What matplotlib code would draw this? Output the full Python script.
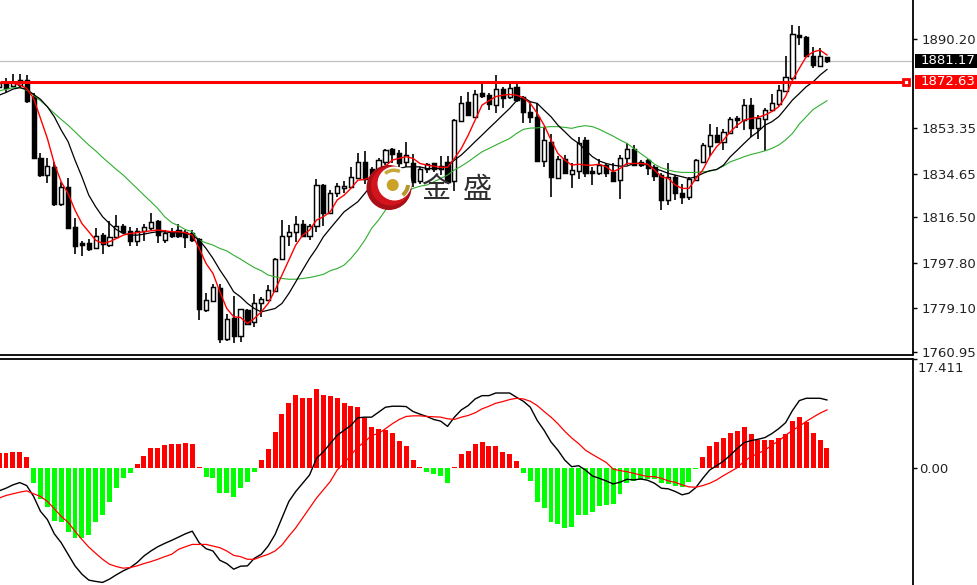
"""Gold chart with moving averages and MACD, MT4 look."""
import numpy as np
import matplotlib
matplotlib.use("Agg")
import matplotlib.pyplot as plt
from matplotlib.patches import Circle, Wedge, Rectangle
from matplotlib.transforms import blended_transform_factory

opens = [
    1870.5, 1872.5, 1870.8, 1871.2, 1873.2, 1866.4, 1841.2, 1834.0, 1837.4, 1822.0,
    1828.9, 1812.6, 1806.0, 1806.0, 1803.7, 1809.2, 1805.1, 1808.5, 1813.1, 1810.9,
    1806.9, 1810.9, 1812.0, 1815.0, 1807.1, 1810.6, 1811.5, 1810.3, 1809.9, 1807.8,
    1778.2, 1782.1, 1787.5, 1766.2, 1774.8, 1767.5, 1778.2, 1773.4, 1781.0, 1782.6,
    1786.2, 1799.2, 1808.9, 1810.3, 1813.8, 1808.9, 1813.1, 1830.1, 1818.4, 1826.4,
    1828.5, 1829.2, 1832.9, 1839.5, 1836.7, 1836.1, 1839.5, 1844.6, 1843.2, 1839.5,
    1839.1, 1831.7, 1836.7, 1838.8, 1836.7, 1839.5, 1831.7, 1856.4, 1864.3, 1858.1,
    1867.7, 1867.0, 1862.9, 1869.5, 1866.1, 1870.2, 1866.1, 1860.2, 1858.1, 1839.8,
    1847.8, 1832.9, 1840.5, 1834.4, 1835.8, 1848.5, 1835.8, 1834.7, 1838.0, 1835.4,
    1831.9, 1840.9, 1844.6, 1839.2, 1840.2, 1837.4, 1834.0, 1823.9, 1833.3, 1826.7,
    1825.0, 1831.9, 1839.5, 1846.0, 1850.5, 1847.8, 1851.2, 1857.4, 1856.7, 1862.9,
    1853.3, 1857.0, 1860.8, 1863.3, 1868.8, 1874.2, 1891.8, 1891.2, 1883.2, 1879.2,
    1882.6,
]
highs = [
    1873.2, 1873.9, 1875.7, 1875.7, 1875.3, 1867.7, 1843.2, 1840.9, 1839.5, 1831.2,
    1832.6, 1816.1, 1806.7, 1807.8, 1812.0, 1809.9, 1815.1, 1817.5, 1813.8, 1812.6,
    1812.0, 1814.0, 1818.2, 1815.4, 1811.3, 1812.0, 1813.8, 1811.3, 1811.5, 1808.2,
    1785.5, 1789.0, 1789.0, 1776.8, 1784.0, 1778.9, 1778.5, 1784.7, 1783.7, 1788.6,
    1799.6, 1815.4, 1813.3, 1817.1, 1815.4, 1814.0, 1832.2, 1830.5, 1827.8, 1830.8,
    1831.7, 1837.2, 1843.2, 1843.9, 1837.2, 1840.9, 1844.6, 1845.0, 1844.3, 1847.8,
    1842.9, 1837.4, 1839.1, 1839.1, 1841.8, 1841.8, 1857.0, 1866.6, 1868.4, 1869.1,
    1872.1, 1867.7, 1875.3, 1870.5, 1871.9, 1871.6, 1866.6, 1864.3, 1863.9, 1854.0,
    1850.9, 1841.8, 1842.3, 1838.8, 1849.8, 1849.6, 1837.4, 1840.5, 1838.8, 1838.8,
    1842.3, 1847.4, 1846.4, 1840.2, 1840.5, 1838.1, 1834.7, 1838.8, 1834.0, 1830.5,
    1833.3, 1840.5, 1847.1, 1855.1, 1854.0, 1852.9, 1858.1, 1858.4, 1865.3, 1865.7,
    1858.8, 1861.5, 1867.5, 1871.2, 1883.2, 1896.0, 1895.6, 1891.4, 1887.0, 1886.3,
    1882.9,
]
lows = [
    1869.1, 1868.4, 1870.5, 1870.5, 1863.9, 1840.6, 1833.3, 1830.8, 1821.2, 1821.2,
    1811.7, 1801.6, 1800.5, 1802.7, 1803.3, 1801.6, 1804.4, 1808.2, 1810.2, 1804.7,
    1804.7, 1806.9, 1811.3, 1805.8, 1806.0, 1808.1, 1808.2, 1803.7, 1806.5, 1774.1,
    1777.5, 1781.7, 1764.7, 1765.4, 1764.7, 1765.1, 1772.3, 1771.3, 1775.5, 1782.4,
    1785.8, 1798.9, 1804.7, 1806.5, 1808.5, 1807.1, 1810.6, 1812.9, 1818.2, 1824.8,
    1826.4, 1828.5, 1832.2, 1830.3, 1829.0, 1835.4, 1838.1, 1838.8, 1837.4, 1837.4,
    1828.9, 1830.3, 1834.7, 1835.4, 1834.0, 1830.5, 1827.4, 1856.3, 1858.4, 1857.4,
    1865.7, 1860.8, 1859.7, 1861.5, 1865.3, 1864.3, 1855.3, 1855.7, 1839.5, 1837.2,
    1825.0, 1832.5, 1834.4, 1828.5, 1832.2, 1833.3, 1830.1, 1834.0, 1833.3, 1831.2,
    1824.0, 1838.1, 1837.9, 1837.4, 1834.0, 1831.5, 1819.5, 1821.6, 1823.7, 1822.0,
    1823.9, 1831.5, 1838.8, 1842.0, 1847.1, 1844.3, 1850.8, 1853.3, 1852.6, 1849.8,
    1849.1, 1844.0, 1860.4, 1862.5, 1868.4, 1873.3, 1887.7, 1882.9, 1878.1, 1878.8,
    1880.1,
]
closes = [
    1871.9, 1869.8, 1872.5, 1873.2, 1864.7, 1840.9, 1834.0, 1837.7, 1822.0, 1829.2,
    1812.0, 1804.8, 1805.1, 1803.3, 1808.9, 1805.5, 1808.5, 1812.9, 1810.6, 1806.7,
    1811.0, 1812.6, 1814.7, 1809.2, 1809.9, 1808.9, 1808.8, 1808.5, 1807.1, 1778.9,
    1782.4, 1787.9, 1766.2, 1774.5, 1767.5, 1778.5, 1772.7, 1781.0, 1782.8, 1786.5,
    1799.2, 1808.9, 1810.3, 1813.8, 1808.9, 1813.1, 1830.1, 1818.2, 1826.7, 1829.4,
    1829.4, 1833.0, 1839.5, 1832.3, 1833.0, 1840.2, 1844.3, 1842.9, 1839.1, 1842.3,
    1831.2, 1836.7, 1838.5, 1836.7, 1837.7, 1831.2, 1856.7, 1863.9, 1858.8, 1867.3,
    1866.6, 1863.2, 1869.5, 1865.7, 1870.1, 1865.0, 1859.9, 1857.8, 1839.8, 1848.5,
    1833.0, 1840.6, 1834.7, 1836.1, 1847.4, 1834.7, 1834.7, 1838.0, 1834.7, 1831.7,
    1841.2, 1844.6, 1838.1, 1838.1, 1837.0, 1833.7, 1823.9, 1833.3, 1826.7, 1825.0,
    1832.2, 1840.2, 1846.4, 1850.5, 1847.8, 1851.6, 1857.1, 1856.7, 1862.9, 1853.5,
    1857.4, 1860.8, 1863.9, 1869.1, 1874.6, 1892.1, 1890.9, 1883.2, 1879.5, 1883.2,
    1881.2,
]

ma_fast = [
    1872.1, 1872.0, 1871.9, 1871.2, 1869.8, 1865.7, 1857.4, 1849.1, 1838.8, 1831.2,
    1826.4, 1819.5, 1814.0, 1810.6, 1807.1, 1805.8, 1806.5, 1807.8, 1809.2, 1809.9,
    1810.2, 1810.6, 1811.0, 1811.3, 1811.0, 1810.6, 1810.6, 1810.2, 1809.2, 1803.7,
    1797.5, 1793.4, 1785.8, 1778.9, 1775.5, 1775.2, 1772.7, 1774.8, 1777.5, 1781.0,
    1786.5, 1792.7, 1798.9, 1805.1, 1809.2, 1811.3, 1815.4, 1816.8, 1818.8, 1823.7,
    1825.7, 1828.5, 1831.9, 1832.2, 1833.3, 1836.1, 1837.7, 1840.2, 1840.9, 1841.6,
    1840.9, 1838.8, 1838.1, 1837.7, 1837.2, 1837.2, 1840.9, 1845.0, 1850.5, 1856.7,
    1862.9, 1864.7, 1866.4, 1867.0, 1867.3, 1867.0, 1865.9, 1863.6, 1859.5, 1854.6,
    1848.5, 1842.9, 1840.2, 1838.1, 1838.5, 1838.1, 1838.1, 1838.5, 1837.4, 1835.4,
    1836.7, 1838.8, 1838.8, 1838.8, 1838.5, 1836.1, 1833.3, 1832.6, 1829.9, 1828.5,
    1828.5, 1832.6, 1836.1, 1841.6, 1845.7, 1848.5, 1851.9, 1854.6, 1856.7, 1857.4,
    1857.8, 1858.8, 1860.2, 1862.2, 1866.4, 1873.2, 1878.1, 1882.9, 1884.9, 1885.6,
    1883.6,
]
ma_mid = [
    1867.0, 1868.1, 1869.5, 1870.1, 1869.4, 1867.3, 1865.3, 1862.2, 1858.1, 1852.6,
    1847.8, 1840.2, 1833.3, 1825.7, 1820.9, 1816.8, 1814.0, 1811.5, 1809.9, 1809.2,
    1809.2, 1809.6, 1810.2, 1810.6, 1810.6, 1810.2, 1810.2, 1809.9, 1809.2, 1807.1,
    1803.7, 1799.6, 1794.8, 1790.6, 1785.8, 1783.7, 1781.0, 1778.9, 1777.5, 1778.2,
    1778.9, 1781.0, 1785.1, 1789.9, 1794.8, 1799.6, 1803.7, 1808.5, 1812.0, 1815.4,
    1818.8, 1820.9, 1823.0, 1826.4, 1829.9, 1831.9, 1834.0, 1835.4, 1836.7, 1837.4,
    1837.4, 1837.4, 1836.7, 1836.7, 1836.7, 1837.7, 1840.2, 1842.3, 1845.0, 1847.8,
    1850.5, 1853.3, 1856.0, 1858.8, 1861.5, 1864.7, 1866.1, 1864.3, 1863.6, 1860.8,
    1858.1, 1854.6, 1851.9, 1849.1, 1847.1, 1844.3, 1841.6, 1839.8, 1838.8, 1838.1,
    1837.7, 1837.7, 1838.8, 1838.8, 1838.1, 1836.7, 1835.8, 1834.7, 1834.0, 1833.3,
    1832.6, 1833.3, 1834.7, 1835.8, 1836.3, 1838.1, 1841.6, 1844.3, 1847.1, 1849.8,
    1851.9, 1854.6, 1856.0, 1858.1, 1861.5, 1865.0, 1867.7, 1870.5, 1872.5, 1875.3,
    1877.6,
]
ma_slow = [
    1868.8, 1869.4, 1870.1, 1870.1, 1869.1, 1867.0, 1864.7, 1862.2, 1859.5, 1857.0,
    1854.6, 1851.9, 1849.1, 1846.4, 1844.0, 1841.3, 1838.8, 1836.3, 1834.0, 1831.2,
    1828.5, 1825.7, 1823.0, 1820.2, 1816.8, 1814.4, 1813.1, 1811.5, 1810.6, 1807.1,
    1806.0, 1805.1, 1803.7, 1802.7, 1800.9, 1799.3, 1797.5, 1795.8, 1794.5, 1792.7,
    1792.0, 1791.3, 1791.0, 1791.0, 1791.3, 1791.7, 1792.3, 1793.0, 1794.5, 1795.4,
    1796.8, 1799.6, 1803.0, 1807.1, 1812.0, 1815.4, 1819.5, 1823.0, 1825.0, 1827.1,
    1828.5, 1829.4, 1829.9, 1831.2, 1832.6, 1834.0, 1836.1, 1837.7, 1839.5, 1841.6,
    1843.6, 1845.0, 1846.4, 1847.8, 1849.1, 1851.2, 1852.9, 1853.4, 1853.5, 1853.8,
    1854.0, 1854.0, 1853.7, 1853.3, 1854.0, 1854.4, 1854.0, 1852.9, 1851.5, 1850.1,
    1848.5, 1847.1, 1845.0, 1842.9, 1840.9, 1838.5, 1837.0, 1836.1, 1835.4, 1835.1,
    1835.1, 1835.1, 1835.4, 1835.6, 1836.3, 1837.7, 1839.5, 1840.5, 1841.6, 1842.5,
    1843.2, 1844.0, 1845.0, 1846.4, 1848.5, 1851.2, 1855.1, 1858.1, 1861.1, 1862.9,
    1864.7,
]

macd_hist = [
    2.27, 2.27, 2.53, 2.53, 1.63, -2.37, -4.95, -6.32, -8.54, -8.70,
    -10.28, -11.28, -11.28, -10.65, -8.70, -7.48, -5.53, -3.16, -1.69, -0.90,
    0.58, 1.90, 3.16, 3.16, 3.58, 3.85, 3.85, 4.01, 3.85, 0.16,
    -1.53, -1.69, -4.06, -4.06, -4.69, -3.16, -2.32, -0.63, 1.21, 2.95,
    5.74, 8.54, 10.28, 11.54, 11.12, 11.12, 12.60, 11.59, 11.38, 11.12,
    10.28, 9.85, 9.64, 7.90, 6.43, 6.17, 5.96, 5.53, 4.27, 3.43,
    1.26, 0.16, -0.74, -1.05, -1.26, -2.48, 0.16, 2.11, 2.74, 3.85,
    4.06, 3.43, 3.43, 2.53, 2.11, 1.05, -0.84, -2.11, -5.53, -6.38,
    -8.70, -8.91, -9.59, -9.38, -7.48, -7.48, -7.01, -6.17, -5.96, -5.74,
    -4.22, -2.48, -2.06, -1.95, -1.79, -1.79, -2.48, -2.64, -2.85, -3.00,
    -2.32, -0.21, 1.74, 3.43, 4.06, 4.69, 5.59, 5.80, 6.43, 5.32,
    4.48, 4.48, 4.48, 4.69, 5.32, 7.48, 8.12, 7.27, 5.59, 4.48,
    3.16,
]
macd_line = [
    -3.69, -3.27, -2.74, -2.37, -2.85, -4.58, -6.96, -8.27, -10.54, -11.96,
    -13.81, -15.65, -16.97, -17.92, -18.13, -18.29, -17.76, -17.07, -16.44, -15.92,
    -15.12, -14.07, -13.28, -12.60, -12.07, -11.59, -11.07, -10.54, -10.12, -11.96,
    -12.91, -13.28, -14.76, -15.28, -16.18, -15.70, -15.65, -14.44, -13.81, -12.49,
    -10.65, -8.01, -5.38, -3.79, -2.48, -1.16, 1.48, 2.53, 3.85, 5.16,
    5.96, 6.75, 7.96, 8.06, 8.06, 8.85, 9.64, 9.80, 9.80, 9.75,
    8.96, 8.54, 8.17, 7.69, 7.43, 6.59, 8.06, 9.22, 9.91, 10.96,
    11.49, 11.49, 11.91, 11.91, 11.91, 11.23, 10.59, 9.64, 7.54, 5.96,
    4.11, 2.79, 1.21, 0.16, 0.32, -0.37, -1.32, -1.69, -2.11, -2.58,
    -2.32, -1.84, -1.95, -1.79, -2.00, -2.48, -3.27, -3.37, -3.79, -4.32,
    -4.06, -3.16, -1.69, -0.37, 0.32, 1.05, 2.00, 3.06, 4.01, 4.32,
    4.53, 4.80, 5.43, 6.22, 7.17, 9.12, 10.70, 11.07, 11.07, 11.07,
    10.80,
]
macd_signal = [
    -4.85, -4.43, -4.16, -3.90, -3.69, -4.16, -4.58, -5.38, -6.53, -7.75,
    -8.70, -10.12, -11.44, -12.65, -13.65, -14.60, -15.39, -15.76, -16.02, -15.92,
    -15.65, -15.28, -14.97, -14.60, -14.18, -13.81, -13.02, -12.60, -12.23, -12.23,
    -12.23, -12.49, -12.75, -13.28, -13.97, -14.18, -14.60, -14.60, -14.18, -13.81,
    -13.28, -12.33, -10.91, -9.59, -8.01, -6.43, -4.85, -3.53, -2.21, -0.37,
    0.69, 2.00, 3.32, 4.11, 5.16, 5.43, 6.22, 7.01, 7.69, 8.17,
    8.27, 8.27, 8.17, 8.12, 8.06, 7.80, 7.69, 8.06, 8.33, 8.75,
    9.38, 9.80, 10.28, 10.54, 10.86, 11.07, 10.96, 10.59, 9.91, 8.96,
    8.06, 7.01, 5.80, 4.74, 3.85, 2.79, 2.11, 1.48, 0.84, -0.21,
    -0.47, -0.63, -0.90, -1.16, -1.42, -1.42, -1.69, -2.11, -2.32, -2.74,
    -3.06, -3.11, -2.85, -2.48, -1.95, -1.26, -0.63, 0.00, 1.05, 1.74,
    2.27, 2.79, 3.58, 4.27, 5.16, 5.96, 6.59, 7.38, 8.06, 8.70,
    9.22,
]

price_ticks = [1890.20, 1853.35, 1834.65, 1816.50, 1797.80, 1779.10, 1760.95]
macd_ticks = [17.411, 0.0]
macd_tick_labels = ["", "0.00"]
last_price = 1881.17
level_price = 1872.63

W, H = 977, 585
plt.rcParams["font.family"] = ["DejaVu Sans"]
plt.rcParams["font.size"] = 9.5

fig = plt.figure(figsize=(W / 100, H / 100), dpi=100, facecolor="white")
ax = fig.add_axes([0, 1 - 355 / H, 912.5 / W, 355 / H])
ax2 = fig.add_axes([0, 0, 912.5 / W, (H - 358.5) / H])

xs = np.arange(len(closes))
o, h, l, c = map(np.array, (opens, highs, lows, closes))
up = c >= o

# candles first, the averages go over them
ax.vlines(xs, l, h, color="black", linewidth=1.2, zorder=2)
ax.bar(xs, np.abs(c - o), bottom=np.minimum(o, c), width=0.6,
       facecolor=np.where(up, "white", "black"), edgecolor="black",
       linewidth=1.05, zorder=3)
ax.plot(xs, ma_slow, color="#2fae2f", linewidth=0.8, zorder=4)
ax.plot(xs, ma_mid, color="black", linewidth=0.9, zorder=5)
ax.plot(xs, ma_fast, color="#ff0000", linewidth=1.0, zorder=6)

ax.axhline(last_price, color="#c0c0c0", linewidth=0.9, zorder=1)
ax.hlines(level_price, 0.13, 131.1, color="#ff0000", linewidth=2.2, zorder=7)
ax.plot([131.4], [level_price], marker="s", markersize=4.5, markerfacecolor="white",
        markeredgecolor="#ff0000", markeredgewidth=2.0, zorder=8)

ax.set_xlim(0.13, 132.4)
ax.set_ylim(1759.7, 1906.3)
ax.set_xticks([])
ax.yaxis.tick_right()
ax.set_yticks(price_ticks)
ax.set_yticklabels([f"{v:.2f}" for v in price_ticks])

# price flags on the scale
flag = blended_transform_factory(fig.transFigure, ax.transData)
for price, colour in ((last_price, "black"), (level_price, "#ff0000")):
    ax.add_patch(Rectangle((915 / W, price - 2.9), 62 / W, 5.6, transform=flag,
                           facecolor=colour, edgecolor="none", clip_on=False, zorder=9))
    ax.text(921 / W, price, f"{price:.2f}", transform=flag, color="white",
            va="center", ha="left", clip_on=False, zorder=10)

ax2.bar(xs, macd_hist, width=0.72, color=["#ff0000" if v > 0 else "#00ff00" for v in macd_hist],
        zorder=2)
ax2.plot(xs, macd_line, color="black", linewidth=1.0, zorder=3)
ax2.plot(xs, macd_signal, color="#ff0000", linewidth=0.9, zorder=4)
ax2.set_xlim(0.13, 132.4)
ax2.set_ylim(-18.70, 17.411)
ax2.set_xticks([])
ax2.yaxis.tick_right()
ax2.set_yticks(macd_ticks)
ax2.set_yticklabels(macd_tick_labels)
# the top label of this scale hangs below its tick
ax2.annotate("17.411", xy=(1, 17.411), xycoords=("axes fraction", "data"),
             xytext=(4, -7), textcoords="offset points", va="center", ha="left",
             color="#222222", annotation_clip=False)

for a in (ax, ax2):
    a.set_facecolor("white")
    a.patch.set_alpha(0)
    for side in ("left", "top"):
        a.spines[side].set_visible(False)
    a.spines["right"].set_linewidth(1.3)
    a.spines["bottom"].set_linewidth(1.3)
ax.tick_params(axis="y", length=3, width=1, pad=3.2, labelcolor="#222222")
ax2.tick_params(axis="y", length=3, width=1, pad=1.6, labelcolor="#222222")
ax2.spines["top"].set_visible(True)
ax2.spines["top"].set_linewidth(1.3)
ax2.spines["bottom"].set_visible(False)

# watermark, in picture pixels
logo = fig.add_axes([0, 0, 1, 1], facecolor="none")
logo.set_xlim(0, W)
logo.set_ylim(H, 0)
logo.axis("off")
logo.add_patch(Circle((389, 187.5), 22.5, facecolor="#a80f16", edgecolor="none"))
logo.add_patch(Circle((390.5, 186), 19.5, facecolor="#d3141c", edgecolor="none"))
logo.add_patch(Circle((394.5, 183.5), 17, facecolor="white", edgecolor="none"))
logo.add_patch(Circle((392.7, 185), 6, facecolor="#c9a227", edgecolor="none"))
logo.add_patch(Wedge((394, 184), 15.5, 230, 295, width=3.5, facecolor="#c7a63a", edgecolor="none"))
logo.add_patch(Wedge((394, 184), 16, 4, 52, width=4, facecolor="#b8962e", edgecolor="none"))
logo.text(436, 189.5, "金", family=["Noto Sans CJK SC", "DejaVu Sans"], fontsize=21,
          color="#2f2f2f", ha="center", va="center")
logo.text(477.5, 189.5, "盛", family=["Noto Sans CJK SC", "DejaVu Sans"], fontsize=21,
          color="#2f2f2f", ha="center", va="center")

fig.savefig("out.png", dpi=100, facecolor="white")
